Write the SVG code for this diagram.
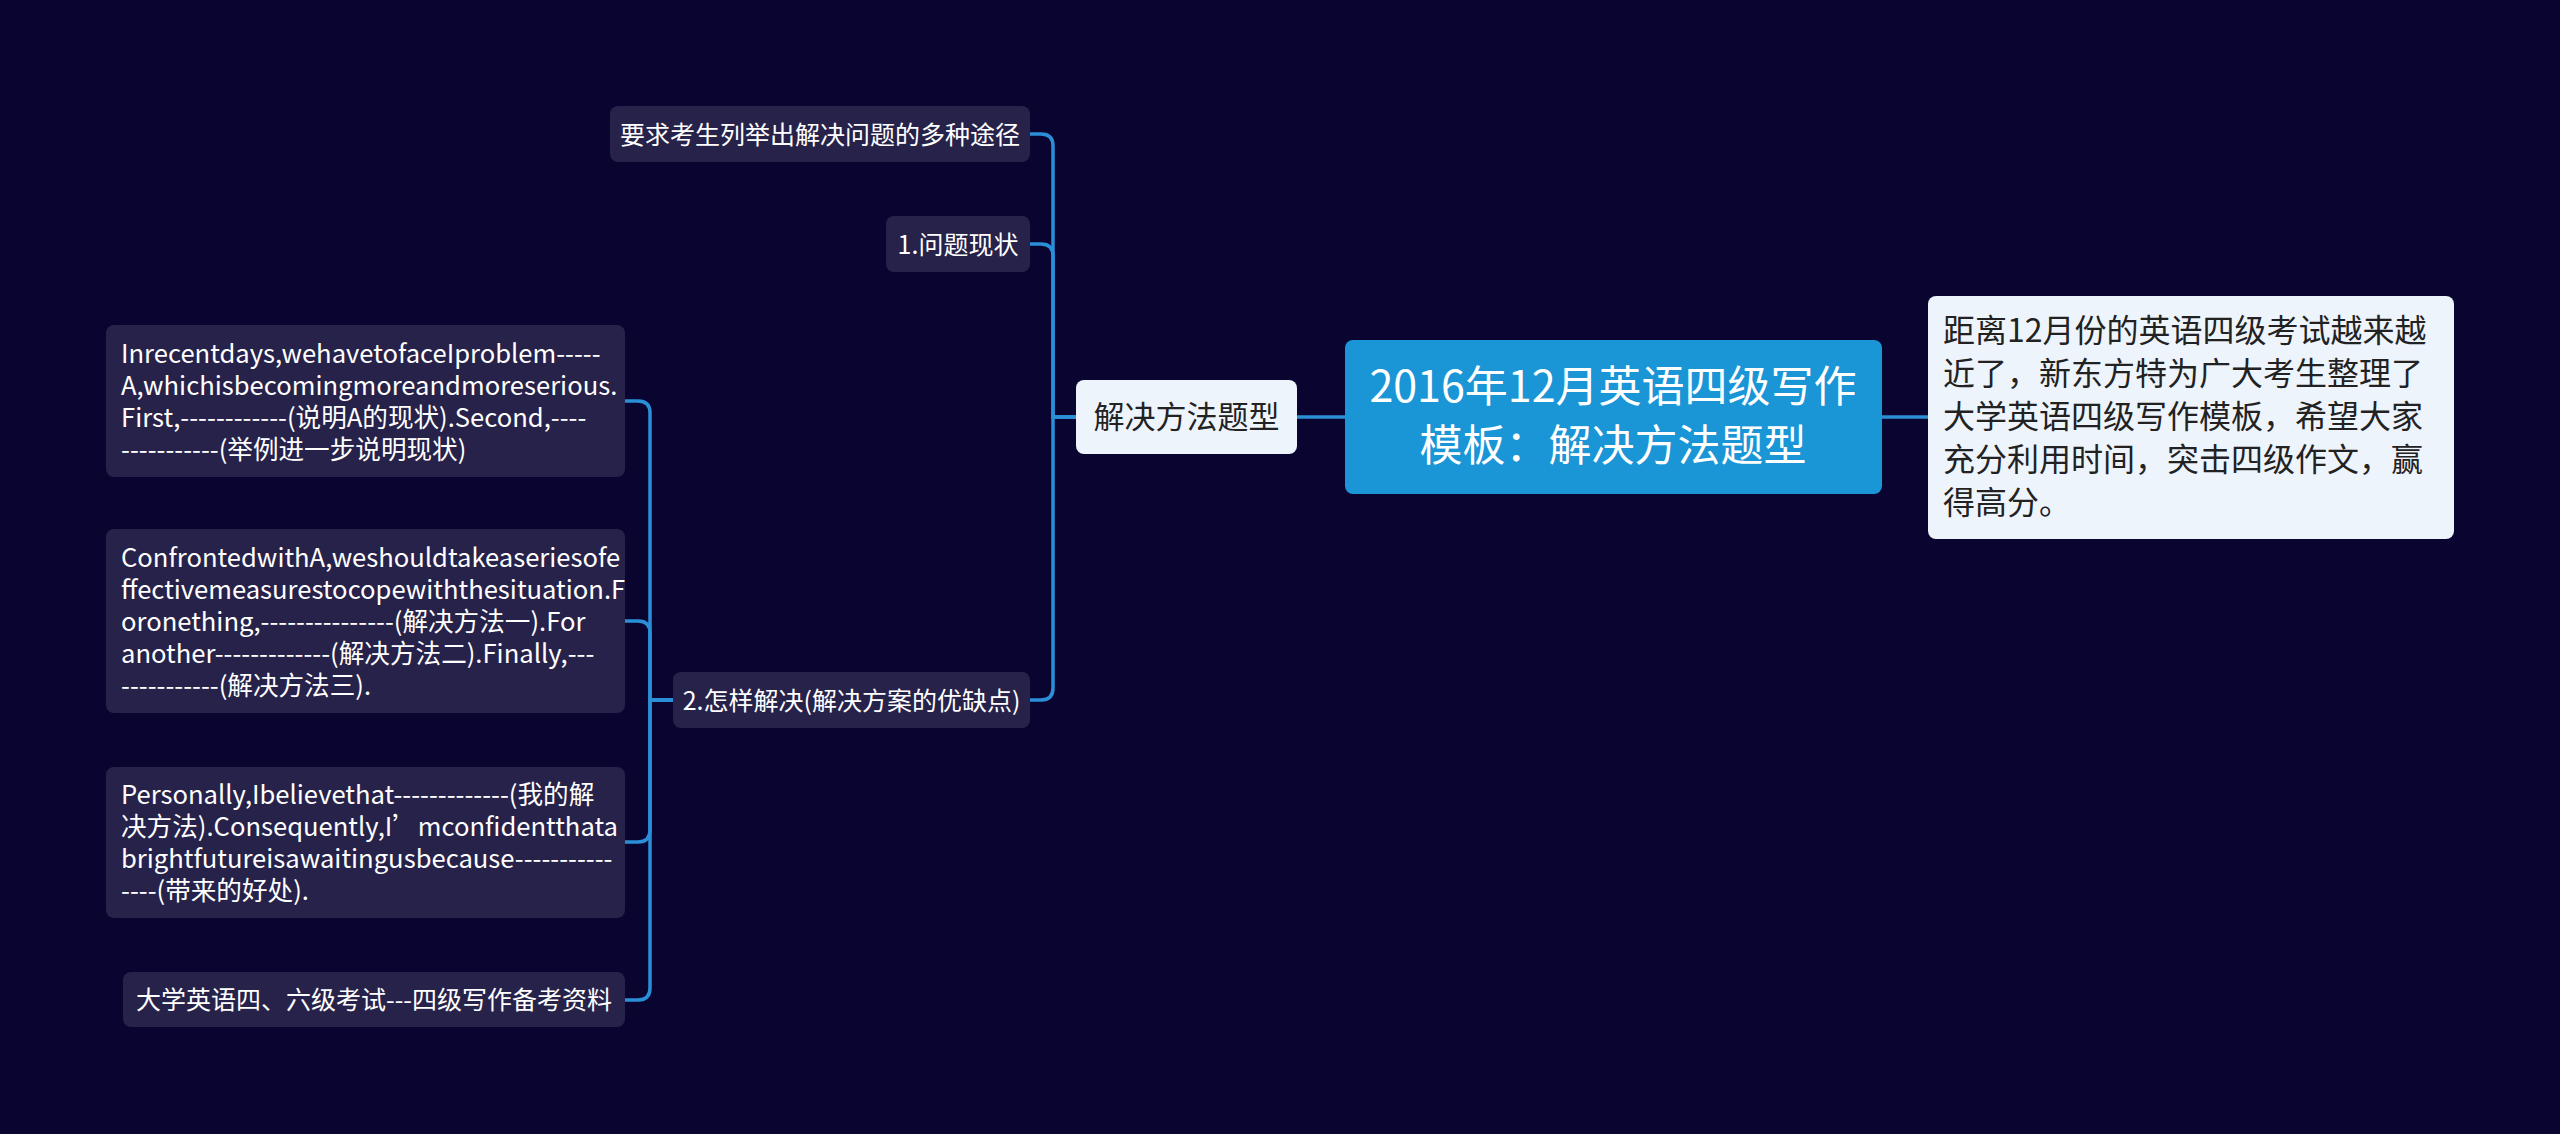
<svg xmlns="http://www.w3.org/2000/svg" width="2560" height="1134" viewBox="0 0 2560 1134">
<style>
text{font-family:"Noto Sans CJK SC","Noto Sans",sans-serif;}
.dark rect{fill:#27224a;}
.dark text{fill:#ffffff;font-size:25px;}
.dark text.p{font-size:25.6px;}
.light rect{fill:#eef4fc;}
.light text{fill:#222222;}
.root rect{fill:#1a95d6;}
.root text{fill:#ffffff;font-size:43px;text-anchor:middle;}
.mid{text-anchor:middle;}
.conn path{fill:none;stroke:#2b8fd8;stroke-width:3.5;}
</style>
<rect width="2560" height="1134" fill="#0a0530"/>
<g class="conn">
<path d="M1345,417 H1297"/>
<path d="M1882,417 H1928"/>
<path d="M1076,417 H1053 V146 Q1053,134 1041,134 H1030"/>
<path d="M1076,417 H1053 V256 Q1053,244 1041,244 H1030"/>
<path d="M1076,417 H1053 V688 Q1053,700 1041,700 H1030"/>
<path d="M673,700 H650 V413 Q650,401 638,401 H625"/>
<path d="M673,700 H650 V633 Q650,621 638,621 H625"/>
<path d="M673,700 H650 V830 Q650,842 638,842 H625"/>
<path d="M673,700 H650 V988 Q650,1000 638,1000 H625"/>
</g>
<g id="root" class="root">
<rect x="1345" y="340" width="537" height="154" rx="8"/>
<text x="1613" y="402">2016年12月英语四级写作</text>
<text x="1613" y="461">模板：解决方法题型</text>
</g>
<g id="note" class="light">
<rect x="1928" y="296" width="526" height="243" rx="8"/>
<text x="1943" y="342" font-size="32">距离12月份的英语四级考试越来越</text>
<text x="1943" y="385" font-size="32">近了，新东方特为广大考生整理了</text>
<text x="1943" y="428" font-size="32">大学英语四级写作模板，希望大家</text>
<text x="1943" y="471" font-size="32">充分利用时间，突击四级作文，赢</text>
<text x="1943" y="514" font-size="32">得高分。</text>
</g>
<g id="type" class="light">
<rect x="1076" y="380" width="221" height="74" rx="8"/>
<text class="mid" x="1186.5" y="428" font-size="31">解决方法题型</text>
</g>
<g id="n-req" class="dark">
<rect x="610" y="106" width="420" height="56" rx="8"/>
<text class="mid" x="820" y="144">要求考生列举出解决问题的多种途径</text>
</g>
<g id="n-status" class="dark">
<rect x="886" y="216" width="144" height="56" rx="8"/>
<text class="mid" x="958" y="254">1.问题现状</text>
</g>
<g id="n-how" class="dark">
<rect x="673" y="672" width="357" height="56" rx="8"/>
<text class="mid" x="851.5" y="710">2.怎样解决(解决方案的优缺点)</text>
</g>
<g id="n-a" class="dark">
<rect x="106" y="325" width="519" height="152" rx="8"/>
<text class="p" x="121" y="363">Inrecentdays,wehavetofaceIproblem-----</text>
<text class="p" x="121" y="395">A,whichisbecomingmoreandmoreserious.</text>
<text class="p" x="121" y="427">First,------------(说明A的现状).Second,----</text>
<text class="p" x="121" y="459">-----------(举例进一步说明现状)</text>
</g>
<g id="n-b" class="dark">
<rect x="106" y="529" width="519" height="184" rx="8"/>
<text class="p" x="121" y="567">ConfrontedwithA,weshouldtakeaseriesofe</text>
<text class="p" x="121" y="599">ffectivemeasurestocopewiththesituation.F</text>
<text class="p" x="121" y="631">oronething,---------------(解决方法一).For</text>
<text class="p" x="121" y="663">another-------------(解决方法二).Finally,---</text>
<text class="p" x="121" y="695">-----------(解决方法三).</text>
</g>
<g id="n-c" class="dark">
<rect x="106" y="767" width="519" height="151" rx="8"/>
<text class="p" x="121" y="804">Personally,Ibelievethat-------------(我的解</text>
<text class="p" x="121" y="836">决方法).Consequently,I’mconfidentthata</text>
<text class="p" x="121" y="868">brightfutureisawaitingusbecause-----------</text>
<text class="p" x="121" y="900">----(带来的好处).</text>
</g>
<g id="n-d" class="dark">
<rect x="123" y="972" width="502" height="55" rx="8"/>
<text class="mid" x="374" y="1009">大学英语四、六级考试---四级写作备考资料</text>
</g>
</svg>
